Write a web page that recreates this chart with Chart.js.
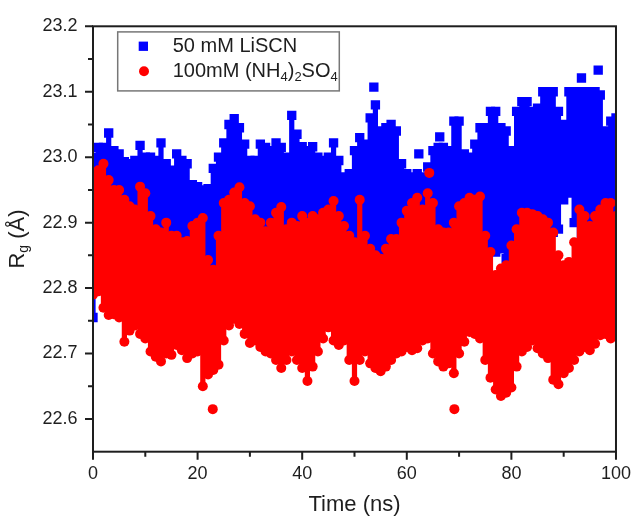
<!DOCTYPE html>
<html>
<head>
<meta charset="utf-8">
<title>Rg vs time</title>
<script src="https://cdn.jsdelivr.net/npm/chart.js"></script>
<style>
    html, body { margin: 0; padding: 0; background: #fff; }
    canvas { display: block; }
</style>
</head>
<body>
<canvas id="rgChart" width="643" height="517"></canvas>
<script>
// sampled time points (ns) used for the band edges
const timeNs = [
    0, 1, 2, 3, 4, 5, 6, 7, 8, 9,
    10, 11, 12, 13, 14, 15, 16, 17, 18, 19,
    20, 21, 22, 23, 24, 25, 26, 27, 28, 29,
    30, 31, 32, 33, 34, 35, 36, 37, 38, 39,
    40, 41, 42, 43, 44, 45, 46, 47, 48, 49,
    50, 51, 52, 53, 54, 55, 56, 57, 58, 59,
    60, 61, 62, 63, 64, 65, 66, 67, 68, 69,
    70, 71, 72, 73, 74, 75, 76, 77, 78, 79,
    80, 81, 82, 83, 84, 85, 86, 87, 88, 89,
    90, 91, 92, 93, 94, 95, 96, 97, 98, 99, 100
];

// 50 mM LiSCN - upper / lower edge of the point cloud
const liscnHigh = [
    23.000, 23.015, 23.015, 23.037, 23.010, 23.005, 22.993, 22.990, 22.995, 23.018,
    23.000, 23.000, 22.995, 23.022, 22.990, 22.980, 23.005, 22.995, 22.990, 22.958,
    22.955, 22.950, 22.952, 22.983, 23.000, 23.022, 23.050, 23.059, 23.045, 23.020,
    22.995, 22.995, 23.020, 23.015, 23.010, 23.022, 23.015, 23.000, 23.064, 23.035,
    23.016, 23.010, 23.016, 23.000, 22.995, 23.000, 23.022, 22.995, 22.970, 22.975,
    23.010, 23.030, 23.020, 23.060, 23.080, 23.040, 23.045, 23.050, 23.040, 22.990,
    22.975, 22.970, 22.975, 22.970, 22.985, 23.010, 23.015, 23.015, 23.010, 23.055,
    23.055, 23.005, 23.000, 23.020, 23.045, 23.045, 23.070, 23.070, 23.045, 23.040,
    23.010, 23.070, 23.085, 23.085, 23.070, 23.075, 23.100, 23.100, 23.100, 23.070,
    23.050, 23.100, 23.100, 23.100, 23.100, 23.100, 23.100, 23.095, 23.040, 23.055, 23.060
];
const liscnLow = [
    22.755, 22.800, 22.820, 22.820, 22.820, 22.820, 22.820, 22.820, 22.820, 22.820,
    22.820, 22.820, 22.820, 22.820, 22.820, 22.820, 22.820, 22.820, 22.820, 22.820,
    22.820, 22.820, 22.820, 22.820, 22.820, 22.820, 22.820, 22.820, 22.820, 22.820,
    22.820, 22.820, 22.820, 22.820, 22.820, 22.820, 22.820, 22.820, 22.820, 22.820,
    22.820, 22.820, 22.820, 22.820, 22.820, 22.820, 22.820, 22.820, 22.820, 22.820,
    22.820, 22.820, 22.820, 22.820, 22.820, 22.820, 22.820, 22.820, 22.820, 22.820,
    22.820, 22.820, 22.820, 22.820, 22.820, 22.820, 22.820, 22.820, 22.820, 22.820,
    22.820, 22.820, 22.820, 22.820, 22.820, 22.820, 22.860, 22.855, 22.860, 22.845,
    22.830, 22.840, 22.840, 22.840, 22.885, 22.885, 22.885, 22.885, 22.885, 22.890,
    22.935, 22.945, 22.900, 22.830, 22.830, 22.830, 22.830, 22.830, 22.830, 22.830, 22.830
];
// isolated LiSCN points sticking out of the cloud
const liscnExtraX = [53.7, 62.3, 66.3, 93.4, 96.6];
const liscnExtraY = [23.107, 23.005, 23.031, 23.121, 23.133];

// 100 mM (NH4)2SO4 - upper / lower edge of the point cloud
const sulfateHigh = [
    22.970, 22.980, 22.990, 22.965, 22.950, 22.950, 22.935, 22.925, 22.920, 22.955,
    22.945, 22.910, 22.890, 22.885, 22.900, 22.880, 22.880, 22.870, 22.872, 22.895,
    22.900, 22.907, 22.843, 22.828, 22.880, 22.930, 22.935, 22.946, 22.954, 22.930,
    22.925, 22.905, 22.900, 22.887, 22.900, 22.915, 22.924, 22.890, 22.900, 22.895,
    22.910, 22.900, 22.910, 22.905, 22.915, 22.920, 22.933, 22.910, 22.895, 22.880,
    22.870, 22.935, 22.880, 22.860, 22.850, 22.845, 22.860, 22.875, 22.875, 22.900,
    22.918, 22.930, 22.938, 22.920, 22.945, 22.930, 22.890, 22.885, 22.885, 22.900,
    22.925, 22.930, 22.938, 22.935, 22.940, 22.880, 22.855, 22.820, 22.830, 22.835,
    22.865, 22.890, 22.915, 22.915, 22.913, 22.910, 22.905, 22.900, 22.885, 22.850,
    22.835, 22.840, 22.870, 22.920, 22.910, 22.895, 22.910, 22.920, 22.930, 22.930, 22.910
];
const sulfateLow = [
    22.790, 22.795, 22.770, 22.759, 22.760, 22.755, 22.718, 22.735, 22.743, 22.730,
    22.723, 22.703, 22.695, 22.688, 22.700, 22.698, 22.713, 22.705, 22.693, 22.700,
    22.703, 22.650, 22.668, 22.675, 22.683, 22.720, 22.743, 22.753, 22.745, 22.730,
    22.716, 22.720, 22.710, 22.703, 22.700, 22.690, 22.678, 22.690, 22.703, 22.690,
    22.678, 22.658, 22.680, 22.703, 22.723, 22.740, 22.720, 22.713, 22.720, 22.690,
    22.658, 22.690, 22.703, 22.685, 22.678, 22.673, 22.680, 22.690, 22.700, 22.703,
    22.710, 22.705, 22.708, 22.720, 22.723, 22.700, 22.688, 22.680, 22.685, 22.670,
    22.700, 22.718, 22.733, 22.730, 22.723, 22.690, 22.663, 22.645, 22.635, 22.640,
    22.648, 22.680, 22.703, 22.710, 22.720, 22.708, 22.700, 22.693, 22.660, 22.653,
    22.670, 22.678, 22.690, 22.703, 22.710, 22.705, 22.715, 22.728, 22.730, 22.723, 22.730
];
const sulfateExtraX = [22.9, 69.1, 64.3];
const sulfateExtraY = [22.615, 22.615, 22.976];

// axis ticks
const xMajorTicks = [0, 20, 40, 60, 80, 100];
const xMinorTicks = [10, 30, 50, 70, 90];
const yMajorTicks = [22.6, 22.7, 22.8, 22.9, 23.0, 23.1, 23.2];
const yMinorTicks = [22.65, 22.75, 22.85, 22.95, 23.05, 23.15];

const BLUE = "#0000ff";
const RED = "#ff0000";
const INK = "#1e1e1e";
const FONT = "'Liberation Sans', Arial, sans-serif";

function toPoints(xs, ys) {
    return xs.map((x, i) => ({ x: x, y: ys[i] }));
}

function bandDataset(xs, ys, color, style, radius, fill) {
    return {
        data: toPoints(xs, ys),
        showLine: false,
        stepped: "middle",
        borderWidth: 0,
        borderColor: color,
        backgroundColor: color,
        pointBackgroundColor: color,
        pointBorderWidth: 0,
        pointStyle: style,
        pointRadius: radius,
        fill: fill
    };
}

// draws text pieces, some of them as subscripts
function drawRichText(ctx, parts, x, y, size) {
    let cursor = x;
    parts.forEach(part => {
        const s = part.sub ? Math.round(size * 0.65) : size;
        ctx.font = `${s}px ${FONT}`;
        ctx.fillText(part.text, cursor, y + (part.sub ? size * 0.28 : 0));
        cursor += ctx.measureText(part.text).width;
    });
    return cursor - x;
}

function measureRichText(ctx, parts, size) {
    let w = 0;
    parts.forEach(part => {
        const s = part.sub ? Math.round(size * 0.65) : size;
        ctx.font = `${s}px ${FONT}`;
        w += ctx.measureText(part.text).width;
    });
    return w;
}

const framePlugin = {
    id: "frameAndLabels",
    afterDraw(chart) {
        const ctx = chart.ctx;
        const area = chart.chartArea;
        const xs = chart.scales.x;
        const ys = chart.scales.y;

        ctx.save();
        ctx.strokeStyle = INK;
        ctx.lineWidth = 2;
        ctx.strokeRect(area.left, area.top, area.right - area.left, area.bottom - area.top);

        ctx.beginPath();
        xMajorTicks.forEach(v => {
            const px = xs.getPixelForValue(v);
            ctx.moveTo(px, area.bottom);
            ctx.lineTo(px, area.bottom + 8);
        });
        xMinorTicks.forEach(v => {
            const px = xs.getPixelForValue(v);
            ctx.moveTo(px, area.bottom);
            ctx.lineTo(px, area.bottom + 5);
        });
        yMajorTicks.forEach(v => {
            const py = ys.getPixelForValue(v);
            ctx.moveTo(area.left, py);
            ctx.lineTo(area.left - 8, py);
        });
        yMinorTicks.forEach(v => {
            const py = ys.getPixelForValue(v);
            ctx.moveTo(area.left, py);
            ctx.lineTo(area.left - 5, py);
        });
        ctx.stroke();

        // legend box
        const lx = area.left + 24.7;
        const ly = area.top + 5.6;
        ctx.fillStyle = "#ffffff";
        ctx.fillRect(lx, ly, 221.6, 59);
        ctx.strokeStyle = "#777";
        ctx.lineWidth = 1.5;
        ctx.strokeRect(lx, ly, 221.6, 59);

        ctx.fillStyle = BLUE;
        ctx.fillRect(lx + 21, ly + 9.7, 9.3, 9.3);
        ctx.fillStyle = RED;
        ctx.beginPath();
        ctx.arc(lx + 26.3, ly + 39.4, 5, 0, Math.PI * 2);
        ctx.fill();

        ctx.fillStyle = INK;
        ctx.textBaseline = "middle";
        ctx.textAlign = "left";
        drawRichText(ctx, [{ text: "50 mM LiSCN" }], lx + 55, ly + 14.6, 20);
        drawRichText(ctx, [
            { text: "100mM (NH" },
            { text: "4", sub: true },
            { text: ")" },
            { text: "2", sub: true },
            { text: "SO" },
            { text: "4", sub: true }
        ], lx + 55, ly + 39.6, 20);

        // x axis title
        ctx.textAlign = "center";
        ctx.font = `22px ${FONT}`;
        ctx.fillText("Time (ns)", (area.left + area.right) / 2, 505);

        // y axis title, rotated, with subscript g
        const yParts = [{ text: "R" }, { text: "g", sub: true }, { text: " (Å)" }];
        ctx.translate(18, (area.top + area.bottom) / 2);
        ctx.rotate(-Math.PI / 2);
        ctx.textAlign = "left";
        const w = measureRichText(ctx, yParts, 22);
        drawRichText(ctx, yParts, -w / 2, 0, 22);
        ctx.restore();
    }
};

new Chart(document.getElementById("rgChart"), {
    type: "line",
    data: {
        datasets: [
            bandDataset(sulfateExtraX, sulfateExtraY, RED, "circle", 5, false),
            bandDataset(timeNs, sulfateHigh, RED, "circle", 5, "+1"),
            bandDataset(timeNs, sulfateLow, RED, "circle", 5, false),
            bandDataset(liscnExtraX, liscnExtraY, BLUE, "rect", 6.6, false),
            bandDataset(timeNs, liscnHigh, BLUE, "rect", 6.6, "+1"),
            bandDataset(timeNs, liscnLow, BLUE, "rect", 6.6, false)
        ]
    },
    options: {
        responsive: false,
        devicePixelRatio: 1,
        animation: false,
        events: [],
        layout: {
            padding: { top: 22.7, right: 18, left: 0, bottom: 0 }
        },
        plugins: {
            legend: { display: false },
            tooltip: { enabled: false }
        },
        scales: {
            x: {
                type: "linear",
                min: 0,
                max: 100,
                grid: { display: false, drawTicks: false },
                border: { display: false },
                ticks: {
                    padding: 12,
                    color: INK,
                    font: { family: FONT, size: 18 },
                    callback: value => String(value)
                },
                afterBuildTicks: scale => {
                    scale.ticks = xMajorTicks.map(v => ({ value: v }));
                },
                afterFit: scale => {
                    scale.height = 65.3;
                }
            },
            y: {
                type: "linear",
                min: 22.55,
                max: 23.2,
                grid: { display: false, drawTicks: false },
                border: { display: false },
                ticks: {
                    padding: 15.5,
                    color: INK,
                    font: { family: FONT, size: 18 },
                    callback: value => value.toFixed(1)
                },
                afterBuildTicks: scale => {
                    scale.ticks = yMajorTicks.map(v => ({ value: v }));
                },
                afterFit: scale => {
                    scale.width = 93;
                }
            }
        }
    },
    plugins: [framePlugin]
});
</script>
</body>
</html>
